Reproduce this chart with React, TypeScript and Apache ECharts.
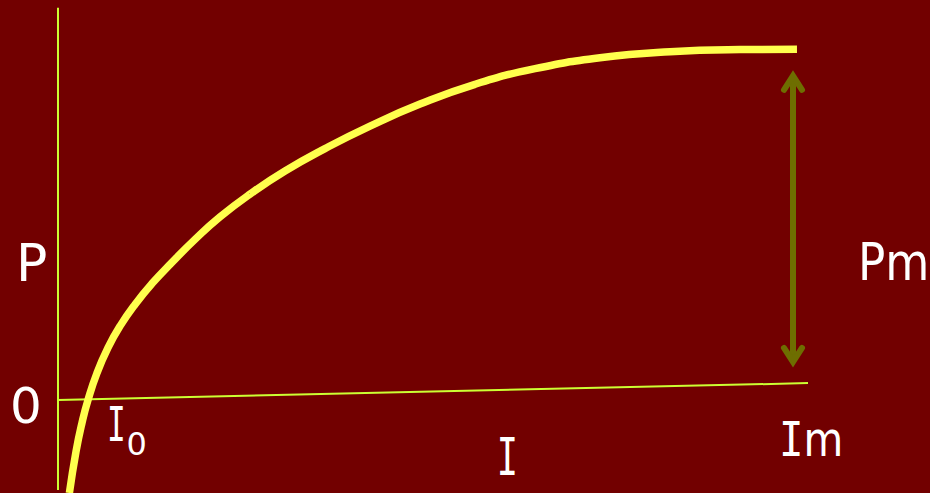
import React, { useEffect, useRef } from "react";
import * as echarts from "echarts";

// Light intensity I (0..100 axis units) vs photosynthesis P (P = 0 at the I axis)
const curveI = [1.52, 2.4, 3.2, 4.0, 5.2, 6.67, 8.27, 10.27, 12.53, 15.2, 18.27, 21.6, 25.6, 30.27, 35.6, 41.6, 48.27, 55.6, 63.6, 72.27, 81.6, 90.93, 98.53];
const curveP = [-26.42, -14.66, -6.48, 0, 7.67, 14.86, 20.99, 27.16, 33.07, 39.09, 45.63, 52.02, 58.49, 65.06, 71.42, 77.81, 84.06, 89.69, 94.12, 97.24, 98.95, 99.55, 99.63];

// slightly tilted I axis line
const iAxisI = [0, 100];
const iAxisP = [0, 4.8];
// P axis line
const pAxisI = [0, 0];
const pAxisP = [111.4, -25.6];

// Pm double arrow: at I = 98, from P = 9.1 up to P = 93.8
const arrowI = [98];
const arrowFrom = [9.1];
const arrowTo = [93.8];

const BG = "#720000";
const CURVE = "#ffff4d";
const AXIS = "#ccff33";
const ARROW = "#6e6e00";
const SANS = "'DejaVu Sans', Verdana, sans-serif";
const MONO = "'DejaVu Sans Mono', monospace";

export default function App() {
  const ref = useRef<HTMLDivElement>(null);
  useEffect(() => {
    document.body.style.margin = "0";
    const chart = echarts.init(ref.current!, null, { renderer: "svg" });
    const zip = (a: number[], b: number[]) => a.map((v, i) => [v, b[i]]);
    chart.setOption({
      animation: false,
      backgroundColor: BG,
      grid: { left: 58, width: 750, top: 5.76, height: 485.76 },
      xAxis: { type: "value", min: 0, max: 100, show: false },
      yAxis: { type: "value", min: -26, max: 112, show: false },
      series: [
        {
          type: "line",
          data: zip(pAxisI, pAxisP),
          symbol: "none",
          lineStyle: { color: AXIS, width: 2 },
          clip: false,
          silent: true,
        },
        {
          type: "line",
          data: zip(iAxisI, iAxisP),
          symbol: "none",
          lineStyle: { color: AXIS, width: 2 },
          clip: false,
          silent: true,
        },
        {
          type: "line",
          data: zip(curveI, curveP),
          symbol: "none",
          smooth: 0.5,
          lineStyle: { color: CURVE, width: 7.5, cap: "butt" },
          clip: false,
          silent: true,
          z: 3,
        },
        {
          type: "custom",
          data: arrowI.map((v, i) => [v, arrowFrom[i], arrowTo[i]]),
          clip: false,
          silent: true,
          renderItem: (_p: any, api: any) => {
            const top = api.coord([api.value(0), api.value(2)]);
            const bot = api.coord([api.value(0), api.value(1)]);
            const off = 6;
            const w = 9;
            const h = 14;
            const st = { stroke: ARROW, lineWidth: 6, fill: "none", lineCap: "round", lineJoin: "miter" };
            const tx = top[0];
            const ty = top[1] + off;
            const by = bot[1] - off;
            return {
              type: "group",
              children: [
                { type: "line", shape: { x1: tx, y1: ty + 2, x2: tx, y2: by - 2 }, style: { ...st, lineCap: "butt" } },
                { type: "polyline", shape: { points: [[tx - w, ty + h], [tx, ty], [tx + w, ty + h]] }, style: st },
                { type: "polyline", shape: { points: [[tx - w, by - h], [tx, by], [tx + w, by - h]] }, style: st },
              ],
            };
          },
        },
      ],
      graphic: [
        { type: "text", x: 16, y: 262.5, style: { text: "P", fill: "#fff", fontSize: 52, fontFamily: SANS, align: "left", verticalAlign: "middle" } },
        { type: "text", x: 858, y: 261.5, scaleX: 0.87, style: { text: "Pm", fill: "#fff", fontSize: 52, fontFamily: SANS, align: "left", verticalAlign: "middle" } },
        { type: "text", x: 10, y: 406, style: { text: "0", fill: "#fff", fontSize: 50, fontFamily: SANS, align: "left", verticalAlign: "middle" } },
        { type: "text", x: 116.5, y: 424.5, scaleX: 0.65, style: { text: "I", fill: "#fff", fontSize: 48, fontFamily: MONO, align: "center", verticalAlign: "middle" } },
        { type: "text", x: 126.5, y: 443.5, style: { text: "0", fill: "#fff", fontSize: 32, fontFamily: SANS, align: "left", verticalAlign: "middle" } },
        { type: "text", x: 507.5, y: 457, scaleX: 0.68, style: { text: "I", fill: "#fff", fontSize: 52, fontFamily: MONO, align: "center", verticalAlign: "middle" } },
        {
          type: "text",
          x: 779,
          y: 439.5,
          scaleX: 0.85,
          style: {
            text: "{i|I}{m|m}",
            fill: "#fff",
            align: "left",
            verticalAlign: "middle",
            rich: {
              i: { fontSize: 48, fontFamily: MONO, fill: "#fff" },
              m: { fontSize: 48, fontFamily: SANS, fill: "#fff" },
            },
          },
        },
      ],
    });
    return () => chart.dispose();
  }, []);
  return <div ref={ref} style={{ position: "fixed", left: 0, top: 0, width: 930, height: 493 }} />;
}
